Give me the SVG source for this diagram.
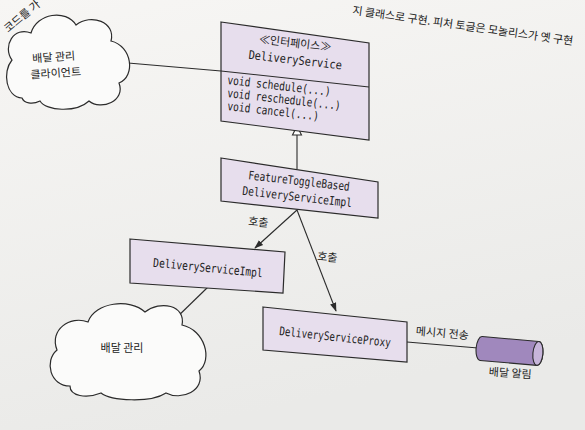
<svg xmlns="http://www.w3.org/2000/svg" width="585" height="430" viewBox="0 0 585 430">
  <style>
    .box { fill: #e7deed; stroke: #2b2b2b; stroke-width: 1.2; }
    .cloud { fill: #fbfbfa; stroke: #2b2b2b; stroke-width: 1.2; }
    .edge { fill: none; stroke: #2b2b2b; stroke-width: 1.1; }
    .mono { font-family: "DejaVu Sans Mono", "Liberation Mono", monospace; font-size: 12px; fill: #222; }
    .ko { font-family: "Noto Sans CJK KR", "Noto Sans", sans-serif; font-size: 11px; fill: #222; }
  </style>
  <defs>
    <linearGradient id="paper" x1="0" y1="0" x2="0.3" y2="1">
      <stop offset="0" stop-color="#f7f6f4"/>
      <stop offset="1" stop-color="#eaeae8"/>
    </linearGradient>
    <marker id="arrow" viewBox="0 0 10 10" refX="9" refY="5" markerWidth="9" markerHeight="9" orient="auto" markerUnits="userSpaceOnUse">
      <path d="M0,1.5 L10,5 L0,8.5 Z" fill="#2b2b2b"/>
    </marker>
  </defs>

  <rect width="585" height="430" fill="url(#paper)"/>

  <!-- running caption at the page top -->
  <text class="ko" x="8" y="33" font-size="6" transform="rotate(-40 8 33)">코드를 가</text>
  <text class="ko" x="352" y="14" font-size="11" transform="rotate(8 352 14)">지 클래스로 구현. 피처 토글은 모놀리스가 옛 구현</text>

  <!-- connectors -->
  <g id="connectors">
    <line class="edge" x1="128" y1="63" x2="221" y2="71"/>
    <line class="edge" x1="297" y1="135" x2="297" y2="169"/>
    <polygon points="297,126 292.5,135 301.5,135" fill="#ffffff" stroke="#2b2b2b" stroke-width="1.1"/>
    <line class="edge" x1="297" y1="210" x2="255" y2="248" marker-end="url(#arrow)"/>
    <line class="edge" x1="297" y1="210" x2="336" y2="311" marker-end="url(#arrow)"/>
    <line class="edge" x1="208" y1="287" x2="173" y2="321" marker-end="url(#arrow)"/>
    <line class="edge" x1="407" y1="342" x2="478" y2="348"/>
    <text class="ko" x="258" y="226" text-anchor="middle" transform="rotate(5 258 226)">호출</text>
    <text class="ko" x="327" y="261" text-anchor="middle" transform="rotate(5 327 261)">호출</text>
    <text class="ko" x="442" y="337" text-anchor="middle" transform="rotate(5 442 337)">메시지 전송</text>
  </g>

  <g id="client-cloud">
    <path class="cloud" d="M22,98 C6,97 2,72 12,60 C2,46 14,26 31,33 C37,13 66,9 76,25 C91,13 116,22 111,41 C132,46 136,76 119,83 C126,101 101,111 89,101 C76,113 46,111 40,101 C32,105 24,103 22,98 Z"/>
    <text class="ko" x="54" y="61" text-anchor="middle" transform="rotate(-4 54 61)">배달 관리</text>
    <text class="ko" x="56" y="77" text-anchor="middle" transform="rotate(-4 56 77)">클라이언트</text>
  </g>

  <g id="delivery-service">
    <polygon class="box" points="221,22 369,43 369,140 221,121"/>
    <line class="edge" x1="221" y1="71" x2="369" y2="87"/>
    <g transform="rotate(6.5 295 45)">
      <text class="ko" x="295" y="47" text-anchor="middle" font-size="12">≪인터페이스≫</text>
      <text class="mono" x="297" y="64" text-anchor="middle" textLength="94" lengthAdjust="spacingAndGlyphs">DeliveryService</text>
    </g>
    <text class="mono" x="227" y="84" textLength="104" lengthAdjust="spacingAndGlyphs" transform="rotate(6.5 227 84)">void schedule(...)</text>
    <text class="mono" x="227" y="97" textLength="114" lengthAdjust="spacingAndGlyphs" transform="rotate(6.5 227 97)">void reschedule(...)</text>
    <text class="mono" x="227" y="110" textLength="92" lengthAdjust="spacingAndGlyphs" transform="rotate(6.5 227 110)">void cancel(...)</text>
  </g>

  <g id="feature-toggle-impl">
    <polygon class="box" points="221,158 378,182 378,218 221,201"/>
    <g transform="rotate(6.5 298 190)">
      <text class="mono" x="298" y="185" text-anchor="middle" textLength="102" lengthAdjust="spacingAndGlyphs">FeatureToggleBased</text>
      <text class="mono" x="298" y="201" text-anchor="middle" textLength="110" lengthAdjust="spacingAndGlyphs">DeliveryServiceImpl</text>
    </g>
  </g>

  <g id="delivery-service-impl">
    <polygon class="box" points="130,239 285,252 283,293 130,283"/>
    <text class="mono" x="208" y="272" text-anchor="middle" textLength="110" lengthAdjust="spacingAndGlyphs" transform="rotate(5.5 208 268)">DeliveryServiceImpl</text>
  </g>

  <g id="delivery-cloud">
    <path class="cloud" d="M70,386 C50,386 44,361 57,350 C49,330 70,315 88,322 C95,302 130,298 145,312 C160,300 186,305 182,325 C205,330 213,360 199,371 C206,391 181,401 166,393 C151,403 111,401 101,393 C86,399 70,396 70,386 Z"/>
    <text class="ko" x="122" y="352" text-anchor="middle">배달 관리</text>
  </g>

  <g id="delivery-service-proxy">
    <polygon class="box" points="263,307 407,322 407,362 263,350"/>
    <text class="mono" x="335" y="341" text-anchor="middle" textLength="112" lengthAdjust="spacingAndGlyphs" transform="rotate(6 335 337)">DeliveryServiceProxy</text>
  </g>

  <g id="delivery-notification">
    <g transform="rotate(5 510 351)">
      <path d="M481,339 L538,339 A5,12 0 0 1 538,363 L481,363 A5,12 0 0 1 481,339 Z" fill="#a088bd" stroke="#2b2b2b" stroke-width="1.1"/>
      <ellipse cx="538" cy="351" rx="5" ry="12" fill="#c7b5da" stroke="#2b2b2b" stroke-width="1.1"/>
    </g>
    <text class="ko" x="510" y="377" text-anchor="middle" transform="rotate(4 510 377)">배달 알림</text>
  </g>
</svg>
